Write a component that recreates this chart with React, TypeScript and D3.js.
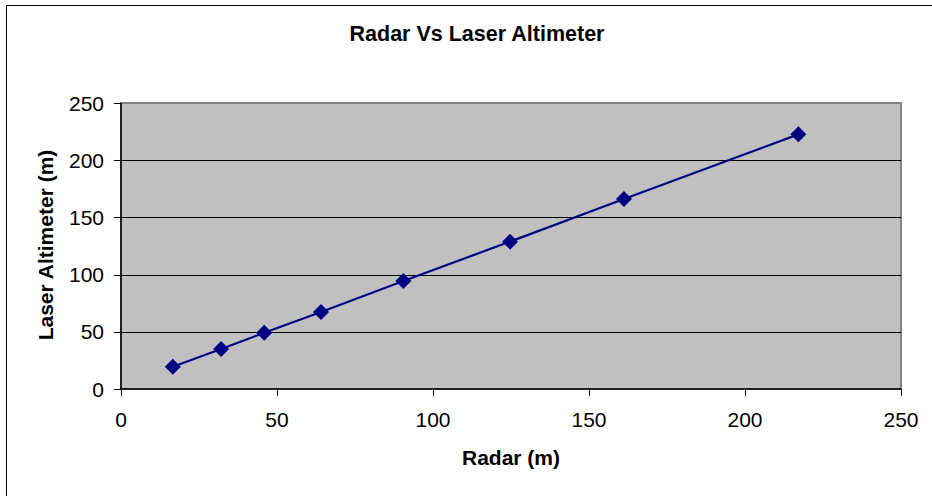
import React from "react";
import * as d3 from "d3";

// Radar altitude readings (m) and the matching laser altimeter readings (m)
const radar = [16.6, 32.1, 45.9, 64.1, 90.5, 124.7, 161.2, 217.1];
const laser = [19.5, 35.0, 49.2, 67.3, 94.4, 128.8, 166.1, 222.6];
const xTicks = [0, 50, 100, 150, 200, 250];
const yTicks = [0, 50, 100, 150, 200, 250];
const chartTitle = "Radar Vs Laser Altimeter";
const xTitle = "Radar (m)";
const yTitle = "Laser Altimeter (m)";

const W = 932;
const H = 496;
const plot = { left: 121, right: 901, top: 103, bottom: 389 };
const font = "'Liberation Sans', Arial, Helvetica, sans-serif";
const navy = "#000080";

export default function App() {
  const x = d3.scaleLinear().domain([0, 250]).range([plot.left, plot.right]);
  const y = d3.scaleLinear().domain([0, 250]).range([plot.bottom, plot.top]);
  const points = radar.map((r, i) => [r, laser[i]] as [number, number]);
  const line = d3
    .line<[number, number]>()
    .x((d) => x(d[0]))
    .y((d) => y(d[1]));
  const diamond = d3.symbol(d3.symbolSquare, 128)();

  return (
    <svg
      width={W}
      height={H}
      style={{ position: "absolute", left: 0, top: 0, background: "#fff" }}
      fontFamily={font}
    >
      {/* chart frame */}
      <rect x={6.5} y={5.5} width={960} height={520} fill="#fff" stroke="#000" strokeWidth={1} />
      <text x={477} y={41} textAnchor="middle" fontSize={21.5} fontWeight="bold">
        {chartTitle}
      </text>

      {/* plot area */}
      <rect
        x={plot.left}
        y={plot.top}
        width={plot.right - plot.left}
        height={plot.bottom - plot.top}
        fill="#C0C0C0"
        stroke="#808080"
        strokeWidth={2}
      />
      {yTicks
        .filter((t) => t > 0 && t < 250)
        .map((t) => (
          <line key={t} x1={plot.left} x2={plot.right} y1={Math.round(y(t)) + 0.5} y2={Math.round(y(t)) + 0.5} stroke="#000" strokeWidth={1} />
        ))}

      {/* axes */}
      <line x1={plot.left} x2={plot.left} y1={plot.top} y2={plot.bottom + 1} stroke="#000" strokeWidth={1.5} />
      <line x1={plot.left} x2={plot.right} y1={plot.bottom} y2={plot.bottom} stroke="#000" strokeWidth={1.5} />
      {yTicks.map((t) => (
        <g key={"y" + t}>
          <line x1={plot.left - 7} x2={plot.left} y1={Math.round(y(t)) + 0.5} y2={Math.round(y(t)) + 0.5} stroke="#000" strokeWidth={1} />
          <text x={104} y={y(t) + 7.5} textAnchor="end" fontSize={21}>
            {t}
          </text>
        </g>
      ))}
      {xTicks.map((t) => (
        <g key={"x" + t}>
          <line x1={Math.round(x(t)) + 0.5} x2={Math.round(x(t)) + 0.5} y1={plot.bottom} y2={plot.bottom + 7} stroke="#000" strokeWidth={1} />
          <text x={x(t)} y={427} textAnchor="middle" fontSize={21}>
            {t}
          </text>
        </g>
      ))}

      {/* series */}
      <path d={line(points) ?? ""} fill="none" stroke={navy} strokeWidth={2.2} />
      {points.map((p, i) => (
        <path
          key={i}
          d={diamond ?? ""}
          transform={`translate(${x(p[0])},${y(p[1])}) rotate(45)`}
          fill={navy}
        />
      ))}

      {/* axis titles */}
      <text x={511} y={465} textAnchor="middle" fontSize={21} fontWeight="bold">
        {xTitle}
      </text>
      <text
        transform={`translate(53,245) rotate(-90)`}
        textAnchor="middle"
        fontSize={21}
        fontWeight="bold"
      >
        {yTitle}
      </text>
    </svg>
  );
}
